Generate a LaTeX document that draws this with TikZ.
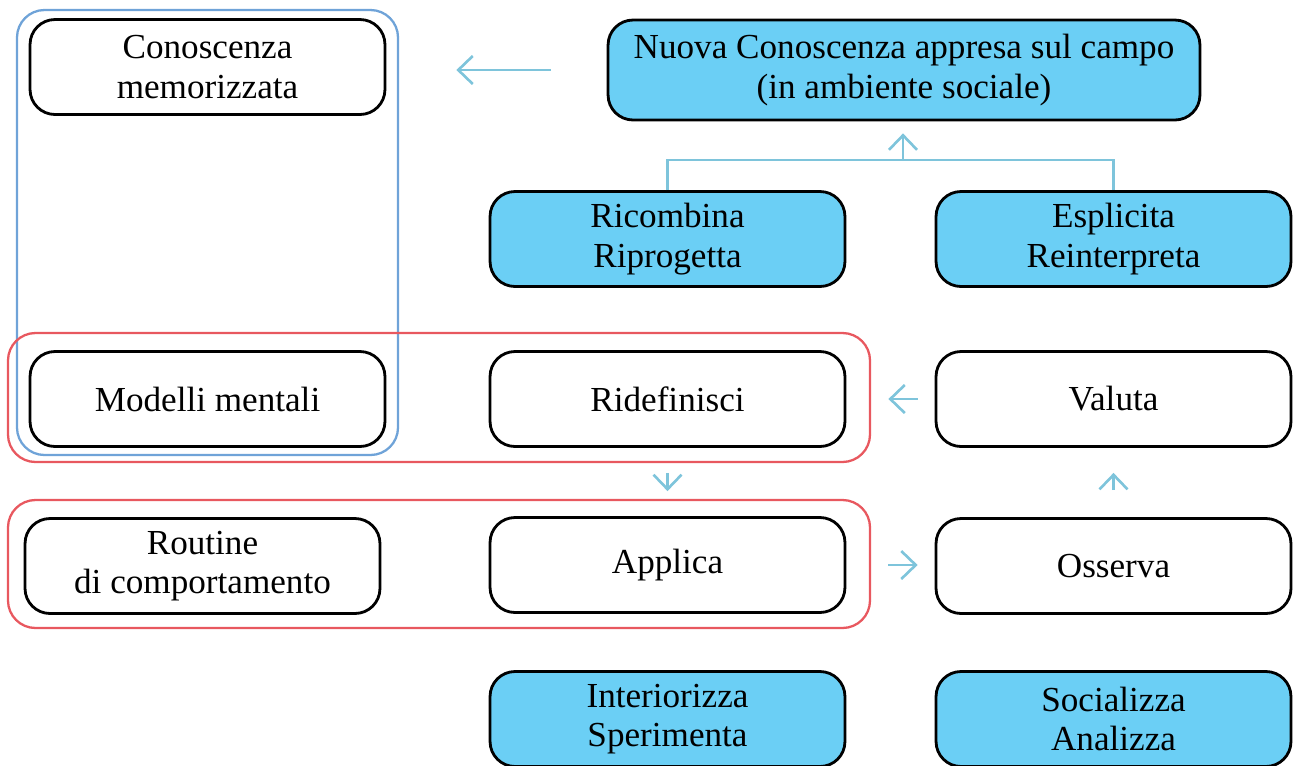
\documentclass[tikz,border=0pt]{standalone}
\usepackage{fontspec}
\setmainfont{Liberation Serif}
\usetikzlibrary{arrows.meta}
\definecolor{boxfill}{HTML}{6BCFF5}
\definecolor{arrowcol}{HTML}{7EC4DB}
\definecolor{groupred}{HTML}{E8585F}
\definecolor{groupblue}{HTML}{6FA3D8}
\begin{document}
\begin{tikzpicture}[x=0.02cm,y=-0.02cm,
    stage/.style ={rectangle, rounded corners=0.5cm, draw, line width=1.6pt, align=center,
      minimum width=7.1cm, minimum height=1.9cm, inner sep=0pt,
      font=\fontsize{20}{22.5}\selectfont},
    active/.style ={stage, fill=boxfill},
    arr/.style ={draw=arrowcol, line width=1.5pt, -{Straight Barb[length=2.9mm,width=5.6mm]}},
    link/.style ={draw=arrowcol, line width=1.5pt},
    group/.style ={rounded corners=0.55cm, line width=1.3pt}]
   \clip (0,0) rectangle (1293,765);
   \useasboundingbox (0,0) rectangle (1293,765);
   % groups
   \draw[group, draw=groupblue] (17,10) rectangle (398,455);
   \draw[group, draw=groupred] (8,333) rectangle (870,462);
   \draw[group, draw=groupred] (8,500) rectangle (870,628);
   % nodes
   \node[stage] (memo)  at (207.5,67)  {Conoscenza\\memorizzata};
   \node[active, minimum width=11.84cm, minimum height=2cm] (nuova) at (904,70) {Nuova Conoscenza appresa sul campo\\(in ambiente sociale)};
   \node[active] (ricomb) at (667.5,239) {Ricombina\\Riprogetta};
   \node[active] (esplic) at (1113.5,239) {Esplicita\\Reinterpreta};
   \node[stage] (modelli) at (207.5,399) {Modelli mentali};
   \node[stage] (ridef) at (667.5,399) {Ridefinisci};
   \node[stage] (valuta) at (1113.5,399) {Valuta};
   \node[stage] (routine) at (202.5,566) {Routine\\di comportamento};
   \node[stage] (applica) at (667.5,565) {Applica};
   \node[stage] (osserva) at (1113.5,566) {Osserva};
   \node[active] (interio) at (667.5,719) {Interiorizza\\Sperimenta};
   \node[active] (social) at (1113.5,719) {Socializza\\Analizza};
   % arrows
   \coordinate (join) at (903,160);
   \draw[link] (ricomb.north) |- (join) -| (esplic.north);
   \draw[arr, shorten >=0.24cm] (join) -- (nuova.south -| join);
   \draw[arr, shorten <=1.12cm, shorten >=1.4cm] (nuova.west) -- (memo.east |- nuova.west);
   \draw[arr, shorten <=0.34cm, shorten >=0.84cm] (valuta) -- (ridef);
   \draw[arr, shorten <=0.5cm, shorten >=0.5cm] (ridef) -- (applica);
   \draw[arr, shorten <=0.84cm, shorten >=0.34cm] (applica.east) -- (osserva.west |- applica.east);
   \draw[arr, shorten <=0.54cm, shorten >=0.5cm] (osserva) -- (valuta);
\end{tikzpicture}
\end{document}
